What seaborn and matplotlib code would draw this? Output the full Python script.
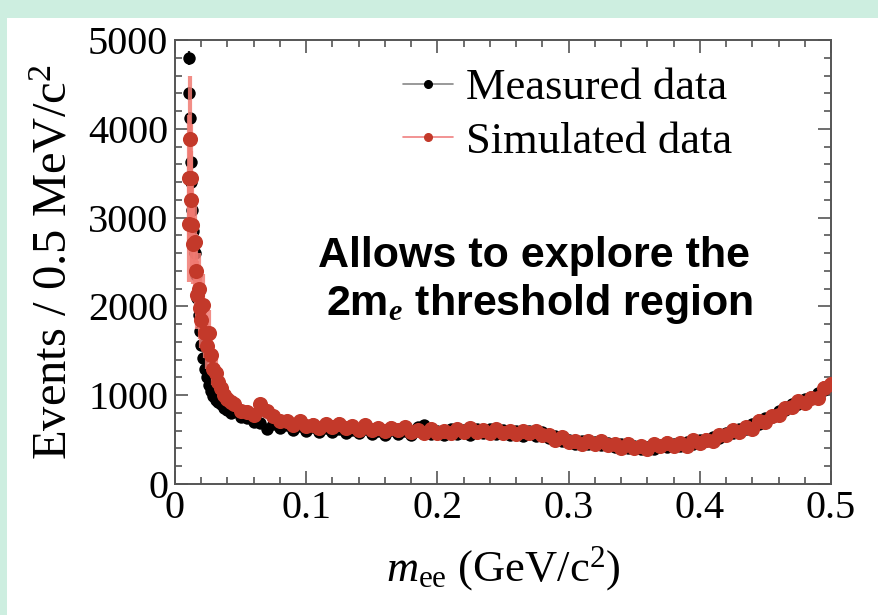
import numpy as np
import pandas as pd
import matplotlib
matplotlib.use("Agg")
import matplotlib.pyplot as plt
import seaborn as sns
from matplotlib.lines import Line2D
from matplotlib.patches import Rectangle
from matplotlib.ticker import MultipleLocator, FixedLocator, FixedFormatter

# ---------------- data ----------------
thr_x = [0.0105, 0.011, 0.0115, 0.012, 0.0125, 0.013, 0.014, 0.015, 0.016, 0.017,
         0.018, 0.019, 0.020, 0.0215, 0.023, 0.0245, 0.026, 0.0275, 0.029, 0.031,
         0.033, 0.035, 0.0375, 0.040, 0.0425]
meas_thr = [4800, 4400, 4120, 3630, 3400, 3090, 2850, 2600, 2350, 2100,
            1900, 1720, 1560, 1420, 1300, 1200, 1120, 1050, 990, 950,
            920, 900, 860, 830, 800]
meas_thr_err = [80, 75, 70, 65, 60, 60, 55, 50, 50, 45, 45, 40, 40, 38, 36, 35,
                33, 32, 31, 31, 30, 30, 29, 29, 28]
sim_thr = [2930, 3450, 3880, 3450, 3200, 2920, 2700, 2730, 2400, 2130,
           2200, 1980, 1850, 2020, 1700, 1550, 1700, 1450, 1300, 1250,
           1150, 1080, 1000, 960, 920]
sim_thr_err = [650, 700, 720, 600, 550, 500, 450, 500, 420, 380, 400, 350, 320,
               350, 280, 250, 260, 220, 180, 160, 140, 120, 100, 90, 80]

reg_x = [0.045, 0.050, 0.055, 0.060, 0.065, 0.070, 0.075, 0.080, 0.085, 0.090,
         0.095, 0.100, 0.105, 0.110, 0.115, 0.120, 0.125, 0.130, 0.135, 0.140,
         0.145, 0.150, 0.155, 0.160, 0.165, 0.170, 0.175, 0.180, 0.185, 0.190,
         0.195, 0.200, 0.205, 0.210, 0.215, 0.220, 0.225, 0.230, 0.235, 0.240,
         0.245, 0.250, 0.255, 0.260, 0.265, 0.270, 0.275, 0.280, 0.285, 0.290,
         0.295, 0.300, 0.305, 0.310, 0.315, 0.320, 0.325, 0.330, 0.335, 0.340,
         0.345, 0.350, 0.355, 0.360, 0.365, 0.370, 0.375, 0.380, 0.385, 0.390,
         0.395, 0.400, 0.405, 0.410, 0.415, 0.420, 0.425, 0.430, 0.435, 0.440,
         0.445, 0.450, 0.455, 0.460, 0.465, 0.470, 0.475, 0.480, 0.485, 0.490,
         0.495, 0.500]
meas_reg = [820, 760, 740, 700, 690, 620, 680, 630, 660, 610,
            650, 600, 640, 590, 630, 580, 620, 575, 610, 570,
            620, 560, 600, 555, 610, 560, 600, 555, 640, 670,
            560, 600, 555, 620, 560, 610, 555, 625, 570, 620,
            560, 610, 555, 600, 545, 595, 540, 590, 520, 545,
            480, 490, 455, 480, 445, 470, 435, 460, 420, 450,
            405, 430, 395, 420, 395, 430, 415, 455, 430, 470,
            455, 495, 485, 530, 515, 570, 570, 620, 620, 680,
            680, 745, 750, 820, 830, 900, 905, 960, 975, 1030,
            1060, 1120]
sim_reg = [905, 820, 815, 775, 900, 825, 770, 705, 710, 660,
           705, 650, 670, 635, 675, 645, 680, 630, 650, 610,
           660, 610, 630, 595, 635, 610, 640, 590, 610, 570,
           625, 575, 600, 570, 615, 590, 630, 585, 610, 570,
           620, 570, 595, 560, 600, 570, 600, 550, 555, 490,
           525, 470, 485, 445, 485, 455, 485, 435, 450, 405,
           455, 405, 425, 395, 445, 425, 465, 430, 460, 430,
           495, 460, 500, 485, 550, 550, 610, 590, 640, 625,
           715, 700, 765, 775, 855, 865, 930, 915, 970, 970,
           1085, 1130]
meas_err_flat = 28
sim_err_flat = 70

xtick_vals = [0, 0.1, 0.2, 0.3, 0.4, 0.5]
xtick_labels = ["0", "0.1", "0.2", "0.3", "0.4", "0.5"]
ytick_vals = [0, 1000, 2000, 3000, 4000, 5000]
ytick_labels = ["0", "1000", "2000", "3000", "4000", "5000"]

x_all = np.array(thr_x + reg_x)
meas = np.array(meas_thr + meas_reg, dtype=float)
sim = np.array(sim_thr + sim_reg, dtype=float)
meas_err = np.concatenate([meas_thr_err, np.full(len(reg_x), meas_err_flat)])
sim_err = np.concatenate([sim_thr_err, np.full(len(reg_x), sim_err_flat)])

df_meas = pd.DataFrame({"m": x_all, "events": meas})
df_sim = pd.DataFrame({"m": x_all, "events": sim})

# ---------------- style ----------------
sns.set_theme(style="ticks")
plt.rcParams["font.family"] = ["Liberation Serif", "DejaVu Serif"]
plt.rcParams["text.color"] = "black"
plt.rcParams["axes.labelcolor"] = "black"
plt.rcParams["mathtext.fontset"] = "custom"
plt.rcParams["mathtext.rm"] = "Liberation Serif"
plt.rcParams["mathtext.it"] = "Liberation Serif:italic"
plt.rcParams["mathtext.bf"] = "Liberation Serif:bold"
plt.rcParams["mathtext.bfit"] = "Liberation Serif:italic:bold"

W, H = 879, 615
fig = plt.figure(figsize=(W / 100, H / 100), dpi=100)
fig.patch.set_facecolor("#cdeee0")
fig.add_artist(Rectangle((7 / W, 0), 1, 1 - 18 / H, transform=fig.transFigure,
                         facecolor="white", edgecolor="none", zorder=-10))

ax = fig.add_axes([175 / W, 131 / H, 656 / W, 444 / H])
ax.set_facecolor("white")

RED = "#c3392a"
RED_ERR = "#f07a72"

ax.errorbar(df_meas["m"], df_meas["events"], yerr=meas_err, fmt="none",
            ecolor="#222222", elinewidth=1.6, zorder=2)
sns.scatterplot(data=df_meas, x="m", y="events", color="black", s=80,
                linewidth=0, ax=ax, zorder=3, legend=False)
ax.errorbar(df_sim["m"], df_sim["events"], yerr=sim_err, fmt="none",
            ecolor=RED_ERR, elinewidth=3.0, alpha=0.85, zorder=4)
sns.scatterplot(data=df_sim, x="m", y="events", color=RED, s=118,
                linewidth=0, ax=ax, zorder=5, legend=False)

ax.set_xlim(0, 0.5)
ax.set_ylim(0, 5000)
ax.xaxis.set_major_locator(FixedLocator(xtick_vals))
ax.xaxis.set_major_formatter(FixedFormatter(xtick_labels))
ax.yaxis.set_major_locator(FixedLocator(ytick_vals))
ax.yaxis.set_major_formatter(FixedFormatter(ytick_labels))
ax.xaxis.set_minor_locator(MultipleLocator(0.02))
ax.yaxis.set_minor_locator(MultipleLocator(200))
ax.tick_params(which="both", direction="in", top=True, right=True,
               color="#555555", labelcolor="black")
ax.tick_params(which="major", length=9.5, width=1.2, labelsize=29)
ax.tick_params(axis="x", which="major", pad=4)
ax.tick_params(axis="y", which="major", pad=5)
ax.tick_params(which="minor", length=5, width=1.2)
for sp in ax.spines.values():
    sp.set_color("#555555")
    sp.set_linewidth(1.4)

ax.set_xlabel(r"$m_{\mathrm{ee}}$ (GeV/c$^{2}$)", fontsize=32)
ax.set_ylabel(r"Events / 0.5 MeV/c$^{2}$", fontsize=35)
ax.xaxis.set_label_coords(0.5, -0.135)
ax.yaxis.set_label_coords(-0.15, 0.5)

handles = [
    Line2D([], [], color="#888888", lw=1.2, marker="o", markersize=5.5,
           markerfacecolor="black", markeredgecolor="black"),
    Line2D([], [], color="#f08080", lw=1.2, marker="o", markersize=5.5,
           markerfacecolor=RED, markeredgecolor=RED),
]
ax.legend(handles, ["Measured data", "Simulated data"], loc="upper left",
          bbox_to_anchor=(403 / W, 1 - 68 / H), bbox_transform=fig.transFigure,
          frameon=False, fontsize=32, borderpad=0, borderaxespad=0,
          handlelength=1.12, handletextpad=0.3, labelspacing=0.3)

fig.text(534 / W, 1 - 267 / H, "Allows to explore the", ha="center", va="baseline",
         fontsize=31, fontweight="bold", family="Liberation Sans")
fig.text(540 / W, 1 - 315 / H, r"2m$_{\mathbfit{e}}$ threshold region", ha="center",
         va="baseline", fontsize=31, fontweight="bold", family="Liberation Sans")

fig.savefig("out.png", dpi=100, facecolor=fig.get_facecolor())
